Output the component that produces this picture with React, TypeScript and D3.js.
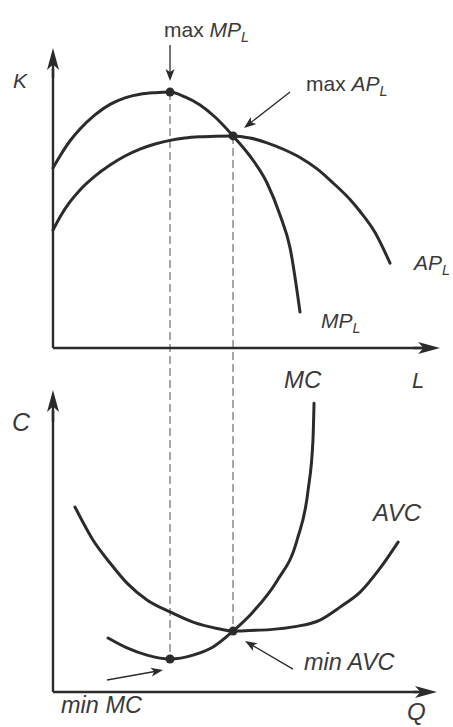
import React from 'react';
import * as d3 from 'd3';

// Top panel: marginal and average product of labour
const mpL = [0, 0.39, 0.94, 1.5, 2.33, 3.17, 4.0, 4.83, 5.67, 6.5, 7.33, 8.17, 9.0, 10, 10.94, 11.89, 12.61, 13.17, 13.72];
const mpVal = [6.0, 6.4, 6.9, 7.3, 7.77, 8.12, 8.34, 8.46, 8.51, 8.53, 8.37, 8.1, 7.7, 7.07, 6.4, 5.5, 4.43, 3.33, 1.2];
const apL = [0, 0.39, 0.94, 1.5, 2.33, 3.17, 4.0, 4.83, 5.67, 6.5, 7.33, 8.17, 9.0, 10, 10.94, 11.89, 12.89, 13.72, 14.67, 15.56, 16.5, 17.06, 17.89, 18.72];
const apVal = [3.93, 4.37, 4.87, 5.27, 5.73, 6.1, 6.4, 6.63, 6.8, 6.92, 7.0, 7.04, 7.06, 7.07, 7.0, 6.84, 6.6, 6.35, 5.97, 5.5, 4.95, 4.55, 3.85, 2.83];

// Bottom panel: marginal cost and average variable cost
const mcQ = [3.06, 4.11, 5.22, 6.5, 7.78, 8.89, 10, 11.11, 12.44, 13.56, 14.17, 14.44, 14.5];
const mcVal = [1.8, 1.47, 1.23, 1.1, 1.23, 1.5, 2.03, 2.67, 3.7, 5.07, 6.73, 8.4, 9.63];
const avcQ = [1.22, 2.22, 3.17, 4.11, 5.22, 6.5, 7.78, 9.11, 10, 10.94, 12.06, 13.44, 14.83, 15.94, 17.06, 18.17, 19.17];
const avcVal = [6.17, 5.07, 4.3, 3.63, 3.07, 2.67, 2.33, 2.12, 2.03, 2.05, 2.08, 2.18, 2.4, 2.83, 3.33, 4.13, 5.0];

// Key points
const maxMP = { x: 6.5, y: 8.53 };
const maxAP = { x: 10, y: 7.07 };
const minMC = { x: 6.5, y: 1.1 };
const minAVC = { x: 10, y: 2.03 };

const INK = '#2b2b2b';
const TXT = '#3a3a3a';
const FONT = '"Liberation Sans", Arial, Helvetica, sans-serif';

function Arrow({ x1, y1, x2, y2, len = 12, w = 4.5, sw = 1.3 }: any) {
  const dx = x2 - x1, dy = y2 - y1;
  const d = Math.hypot(dx, dy);
  const ux = dx / d, uy = dy / d;
  const bx = x2 - ux * len, by = y2 - uy * len;
  const px = -uy, py = ux;
  const pts = [
    [x2, y2],
    [bx + px * w, by + py * w],
    [x2 - ux * len * 0.75, y2 - uy * len * 0.75],
    [bx - px * w, by - py * w],
  ];
  return (
    <g>
      <line x1={x1} y1={y1} x2={x2 - ux * len * 0.7} y2={y2 - uy * len * 0.7} stroke={INK} strokeWidth={sw} />
      <polygon points={pts.map(p => p.join(',')).join(' ')} fill={INK} />
    </g>
  );
}

function Lab({ x, y, pre, main, sub, italicPre = false, fs = 21 }: any) {
  return (
    <text x={x} y={y} fontFamily={FONT} fontSize={fs} fill={TXT}>
      {pre && <tspan fontStyle={italicPre ? 'italic' : 'normal'}>{pre} </tspan>}
      <tspan fontStyle="italic">{main}</tspan>
      {sub && <tspan fontStyle="italic" fontSize={fs * 0.68} dy={5}>{sub}</tspan>}
    </text>
  );
}

export default function App() {
  const W = 453, H = 727;
  const x = d3.scaleLinear().domain([0, 21.33]).range([53, 437]);
  const yT = d3.scaleLinear().domain([0, 10]).range([348, 48]);
  const yB = d3.scaleLinear().domain([0, 10.07]).range([692, 390]);

  const lineT = d3.line<[number, number]>().x(d => x(d[0])).y(d => yT(d[1])).curve(d3.curveMonotoneX);
  const lineB = d3.line<[number, number]>().x(d => x(d[0])).y(d => yB(d[1])).curve(d3.curveMonotoneX);

  const mp = mpL.map((l, i) => [l, mpVal[i]] as [number, number]);
  const ap = apL.map((l, i) => [l, apVal[i]] as [number, number]);
  const mc = mcQ.map((q, i) => [q, mcVal[i]] as [number, number]);
  const avc = avcQ.map((q, i) => [q, avcVal[i]] as [number, number]);

  const x0 = x(0);
  const curve = { fill: 'none', stroke: INK, strokeWidth: 3, strokeLinecap: 'round' as const };

  return (
    <svg width={W} height={H} style={{ position: 'absolute', left: 0, top: 0, background: '#fff' }}>
      <rect width={W} height={H} fill="#fff" />
      {/* dashed guides */}
      <line x1={x(maxMP.x)} x2={x(minMC.x)} y1={yT(maxMP.y)} y2={yB(minMC.y)} stroke="#7a7a7a" strokeWidth={1.3} strokeDasharray="8,4" />
      <line x1={x(maxAP.x)} x2={x(minAVC.x)} y1={yT(maxAP.y)} y2={yB(minAVC.y)} stroke="#7a7a7a" strokeWidth={1.3} strokeDasharray="8,4" />

      {/* top axes */}
      <line x1={x0} y1={yT(0)} x2={x0} y2={yT(9.3)} stroke={INK} strokeWidth={2.4} />
      <Arrow x1={x0} y1={yT(9)} x2={x0} y2={yT(10)} len={22} w={6} sw={2.4} />
      <line x1={x0} y1={yT(0)} x2={x(20.5)} y2={yT(0)} stroke={INK} strokeWidth={2.4} />
      <Arrow x1={x(20)} y1={yT(0)} x2={x(21.5)} y2={yT(0)} len={22} w={6} sw={2.4} />

      {/* bottom axes */}
      <line x1={x0} y1={yB(0)} x2={x0} y2={yB(9.4)} stroke={INK} strokeWidth={2.4} />
      <Arrow x1={x0} y1={yB(9)} x2={x0} y2={yB(10.07)} len={22} w={6} sw={2.4} />
      <line x1={x0} y1={yB(0)} x2={x(20.3)} y2={yB(0)} stroke={INK} strokeWidth={2.4} />
      <Arrow x1={x(20)} y1={yB(0)} x2={x(21.33)} y2={yB(0)} len={22} w={6} sw={2.4} />

      {/* curves */}
      <path d={lineT(mp) || ''} {...curve} />
      <path d={lineT(ap) || ''} {...curve} />
      <path d={lineB(mc) || ''} {...curve} />
      <path d={lineB(avc) || ''} {...curve} />

      {/* points */}
      <circle cx={x(maxMP.x)} cy={yT(maxMP.y)} r={4.5} fill={INK} />
      <circle cx={x(maxAP.x)} cy={yT(maxAP.y)} r={4.5} fill={INK} />
      <circle cx={x(minMC.x)} cy={yB(minMC.y)} r={4.5} fill={INK} />
      <circle cx={x(minAVC.x)} cy={yB(minAVC.y)} r={4.5} fill={INK} />

      {/* annotation arrows */}
      <Arrow x1={x(maxMP.x)} y1={yT(maxMP.y) - 47} x2={x(maxMP.x)} y2={yT(maxMP.y) - 11} />
      <Arrow x1={x(maxAP.x) + 57} y1={yT(maxAP.y) - 44} x2={x(maxAP.x) + 11} y2={yT(maxAP.y) - 8} />
      <Arrow x1={x(minAVC.x) + 60} y1={yB(minAVC.y) + 38} x2={x(minAVC.x) + 12} y2={yB(minAVC.y) + 10} />
      <Arrow x1={x(minMC.x) - 63} y1={yB(minMC.y) + 21} x2={x(minMC.x) - 7} y2={yB(minMC.y) + 11} />

      {/* labels */}
      <Lab x={164} y={37} pre="max" main="MP" sub="L" />
      <Lab x={306} y={91} pre="max" main="AP" sub="L" />
      <Lab x={13} y={88} main="K" />
      <Lab x={414} y={270} main="AP" sub="L" />
      <Lab x={321} y={328} main="MP" sub="L" />
      <Lab x={284} y={388} main="MC" fs={24} />
      <Lab x={412} y={388} main="L" fs={22} />
      <Lab x={12} y={431} main="C" fs={25} />
      <Lab x={373} y={521} main="AVC" fs={24} />
      <Lab x={304} y={670} pre="min" italicPre main="AVC" fs={23.5} />
      <Lab x={61} y={713} pre="min" italicPre main="MC" fs={23.5} />
      <Lab x={407} y={720} main="Q" fs={24} />
    </svg>
  );
}
